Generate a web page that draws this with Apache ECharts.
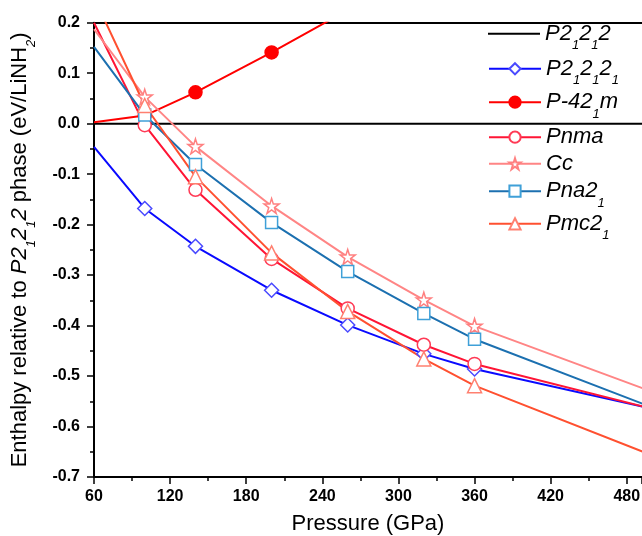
<!DOCTYPE html>
<html>
<head>
<meta charset="utf-8">
<script src="https://cdn.jsdelivr.net/npm/echarts@6/dist/echarts.min.js"></script>
<style>
html,body{margin:0;padding:0;background:#fff;}
#chart{width:642px;height:536px;}
</style>
</head>
<body>
<div id="chart"></div>
<script>
// ---- data ----
const pressure = [60, 100, 140, 200, 260, 320, 360, 500];
const pressureRef = [60, 500];
const pressureP42m = [60, 100, 140, 200, 260];

const valP21212 = [0, 0];
const valP212121 = [-0.046, -0.168, -0.243, -0.330, -0.399, -0.456, -0.486, -0.565];
const valP421m = [0.003, 0.016, 0.062, 0.141, 0.225];
const valPnma = [0.200, -0.003, -0.131, -0.268, -0.366, -0.438, -0.476, -0.565];
const valCc = [0.187, 0.053, -0.045, -0.163, -0.264, -0.349, -0.401, -0.531];
const valPna21 = [0.152, 0.017, -0.081, -0.196, -0.293, -0.376, -0.427, -0.562];
const valPmc21 = [0.250, 0.036, -0.105, -0.256, -0.372, -0.466, -0.519, -0.657];

const seriesNames = ['P2₁2₁2', 'P2₁2₁2₁', 'P-42₁m', 'Pnma', 'Cc', 'Pna2₁', 'Pmc2₁'];
const richNames = {
  'P2₁2₁2': '{i|P2}{s|1}{i|2}{s|1}{i|2}',
  'P2₁2₁2₁': '{i|P2}{s|1}{i|2}{s|1}{i|2}{s|1}',
  'P-42₁m': '{i|P-42}{s|1}{i|m}',
  'Pnma': '{i|Pnma}',
  'Cc': '{i|Cc}',
  'Pna2₁': '{i|Pna2}{s|1}',
  'Pmc2₁': '{i|Pmc2}{s|1}'
};
const xTickMin = 60, xTickInterval = 60;

// ---- layout / style ----
const FONT = '"Liberation Sans", Arial, sans-serif';
const legendRowCenters = [33.3, 68.3, 101.7, 136.7, 163.3, 190.7, 223.3];
const LEG_LH = 37;

function mk(xs, ys) {
  return xs.map((x, i) => i === 0 ? { value: [x, ys[i]], symbol: 'none' } : [x, ys[i]]);
}
const starPath = 'path://M50,2 L61,36 L97,36 L68,57 L79,92 L50,71 L21,92 L32,57 L3,36 L39,36 Z';

function lineSeries(name, xs, ys, lineColor, symbol, symbolSize, fill, border) {
  return {
    name: name, type: 'line', data: mk(xs, ys),
    symbol: symbol, symbolSize: symbolSize, showAllSymbol: true,
    lineStyle: { color: lineColor, width: 2 },
    itemStyle: { color: fill, borderColor: border, borderWidth: 1.5 },
    emphasis: { disabled: true }, clip: true, z: 3
  };
}

const richStyles = {
  i: { fontFamily: FONT, fontStyle: 'italic', fontSize: 22, lineHeight: LEG_LH, color: '#000' },
  s: { fontFamily: FONT, fontStyle: 'italic', fontSize: 13, lineHeight: 13, verticalAlign: 'bottom', color: '#000' }
};

const legends = seriesNames.map((n, k) => {
  const first = k === 0;
  return {
    show: true, orient: 'vertical', left: 488, top: legendRowCenters[k] - 10.5,
    itemWidth: 52, itemHeight: first ? 2 : 14, itemGap: 0, padding: 0,
    data: [first ? { name: n, icon: 'rect', itemStyle: { color: '#000' } } : n],
    selectedMode: false,
    formatter: name => richNames[name],
    textStyle: { fontFamily: FONT, fontSize: 22, rich: richStyles }
  };
});

const chart = echarts.init(document.getElementById('chart'), null, { renderer: 'canvas' });
chart.setOption({
  animation: false,
  backgroundColor: '#fff',
  grid: { left: 94, right: 0, top: 22.7, bottom: 59, containLabel: false, outerBoundsMode: 'none' },
  legend: legends,
  xAxis: [{
    type: 'value', min: xTickMin, max: 492, interval: xTickInterval,
    name: 'Pressure (GPa)', nameLocation: 'middle', nameGap: 36,
    nameTextStyle: { fontFamily: FONT, fontSize: 22, color: '#000' },
    axisLine: { show: true, onZero: false, lineStyle: { color: '#000', width: 2 } },
    axisTick: { show: true, inside: false, length: 7, lineStyle: { color: '#000', width: 1.5 } },
    minorTick: { show: true, splitNumber: 2, length: 4, lineStyle: { color: '#000', width: 1.5 } },
    axisLabel: { fontFamily: FONT, fontSize: 16, fontWeight: 'bold', color: '#000', margin: 12, showMaxLabel: false },
    splitLine: { show: false }
  }, {
    type: 'value', position: 'top', min: xTickMin, max: 492,
    axisLine: { show: true, onZero: false, lineStyle: { color: '#000', width: 2 } },
    axisTick: { show: false }, axisLabel: { show: false }, splitLine: { show: false }
  }],
  yAxis: {
    type: 'value', min: -0.7, max: 0.2, interval: 0.1,
    name: 'Enthalpy relative to {i|P2}{s|1}{i|2}{s|1}{i|2} phase (eV/LiNH{s|2})',
    nameLocation: 'middle', nameGap: 56,
    nameTextStyle: {
      fontFamily: FONT, fontSize: 22, lineHeight: LEG_LH, color: '#000',
      rich: richStyles
    },
    axisLine: { show: true, onZero: false, lineStyle: { color: '#000', width: 2 } },
    axisTick: { show: true, inside: false, length: 7, lineStyle: { color: '#000', width: 1.5 } },
    minorTick: { show: true, splitNumber: 2, length: 4, lineStyle: { color: '#000', width: 1.5 } },
    axisLabel: { fontFamily: FONT, fontSize: 16, fontWeight: 'bold', color: '#000', margin: 14,
      formatter: v => v.toFixed(1) },
    splitLine: { show: false }
  },
  series: [
    {
      name: seriesNames[0], type: 'line', symbol: 'none', showSymbol: false,
      data: pressureRef.map((x, i) => [x, valP21212[i]]),
      lineStyle: { color: '#000', width: 2 }, itemStyle: { color: '#000' },
      emphasis: { disabled: true }, z: 2
    },
    lineSeries(seriesNames[1], pressure, valP212121, '#0a0aff', 'diamond', 14, '#fff', '#4a4aff'),
    lineSeries(seriesNames[2], pressureP42m, valP421m, '#ff0000', 'circle', 13, '#ff0000', '#ff0000'),
    lineSeries(seriesNames[3], pressure, valPnma, '#ff1535', 'circle', 13, '#fff', '#ff3a55'),
    lineSeries(seriesNames[4], pressure, valCc, '#ff8585', starPath, 15, '#fff', '#ff8080'),
    lineSeries(seriesNames[5], pressure, valPna21, '#1c70b0', 'rect', 12, '#fff', '#3fa0d8'),
    lineSeries(seriesNames[6], pressure, valPmc21, '#ff5030', 'triangle', 14, '#fff', '#ff8070')
  ]
});
</script>
</body>
</html>
